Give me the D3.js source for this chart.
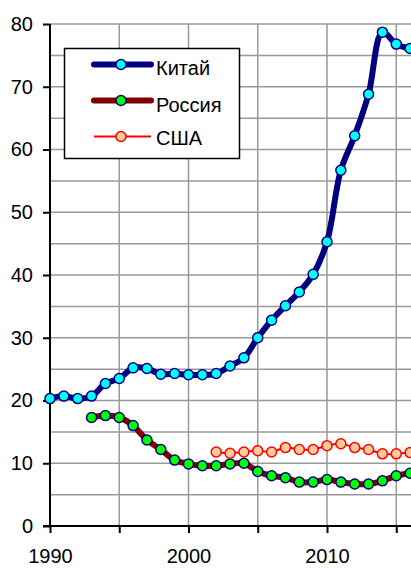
<!DOCTYPE html>
<html>
<head>
<meta charset="utf-8">
<script src="https://cdn.jsdelivr.net/npm/d3@7"></script>
<style>
  body { margin: 0; background: #fff; }
  svg { display: block; font-family: "Liberation Sans", Arial, sans-serif; }
</style>
</head>
<body>
<script>
// data
var chinaYears = [1990, 1991, 1992, 1993, 1994, 1995, 1996, 1997, 1998, 1999, 2000, 2001, 2002, 2003,
                  2004, 2005, 2006, 2007, 2008, 2009, 2010, 2011, 2012, 2013, 2014, 2015, 2016];
var chinaValues = [20.3, 20.7, 20.3, 20.7, 22.7, 23.5, 25.2, 25.1, 24.2, 24.3, 24.1, 24.1, 24.3, 25.5,
                   26.8, 30.0, 32.8, 35.1, 37.3, 40.1, 45.3, 56.7, 62.2, 68.8, 78.7, 76.8, 76.1];

var russiaYears = [1993, 1994, 1995, 1996, 1997, 1998, 1999, 2000, 2001, 2002, 2003, 2004,
                   2005, 2006, 2007, 2008, 2009, 2010, 2011, 2012, 2013, 2014, 2015, 2016];
var russiaValues = [17.3, 17.6, 17.3, 16.0, 13.7, 12.2, 10.5, 9.9, 9.6, 9.6, 9.9, 10.0,
                    8.7, 8.0, 7.7, 7.0, 7.0, 7.4, 7.0, 6.7, 6.7, 7.2, 8.0, 8.4];

var usaYears = [2002, 2003, 2004, 2005, 2006, 2007, 2008, 2009, 2010, 2011, 2012, 2013, 2014, 2015, 2016];
var usaValues = [11.8, 11.6, 11.8, 12.0, 11.8, 12.5, 12.2, 12.2, 12.8, 13.1, 12.5, 12.2, 11.5, 11.5, 11.7];

var seriesNames = ["Китай", "Россия", "США"];
var yTicks = [0, 10, 20, 30, 40, 50, 60, 70, 80];
var xTicks = [1990, 2000, 2010];

// define svg
var width = 411, height = 568;
var svg = d3.select("body")
  .append("svg")
  .attr("width", width)
  .attr("height", height);

// scales (plot runs off the right edge like the original)
var x = d3.scaleLinear().domain([1990, 2020]).range([50, 465.5]);
var y = d3.scaleLinear().domain([0, 80]).range([526, 24]);

// gridlines every 5
var grid = svg.append("g");
grid.selectAll(".hgrid")
  .data(d3.range(5, 81, 5))
  .enter().append("line")
    .attr("x1", x(1990)).attr("x2", width)
    .attr("y1", function(d) { return y(d); })
    .attr("y2", function(d) { return y(d); })
    .attr("stroke", "#999").attr("stroke-width", 1.5);
grid.selectAll(".vgrid")
  .data(d3.range(1995, 2020, 5))
  .enter().append("line")
    .attr("x1", function(d) { return x(d); })
    .attr("x2", function(d) { return x(d); })
    .attr("y1", y(80)).attr("y2", y(0))
    .attr("stroke", "#999").attr("stroke-width", 1.5);

// y axis
var yAxis = svg.append("g")
  .attr("transform", "translate(" + x(1990) + ",0)")
  .call(d3.axisLeft(y).tickValues(yTicks).tickSize(7).tickPadding(10));
yAxis.select(".domain").attr("stroke", "#000").attr("stroke-width", 2).attr("d", "M0," + y(80) + "V" + y(0));
yAxis.selectAll(".tick line").attr("stroke", "#000").attr("stroke-width", 2);
yAxis.selectAll("text").attr("font-size", 20).attr("fill", "#000").attr("font-family", "Liberation Sans, Arial, sans-serif");

// x axis: labelled every 10 years, ticks every 5
var xAxis = svg.append("g")
  .attr("transform", "translate(0," + y(0) + ")")
  .call(d3.axisBottom(x).tickValues(d3.range(1990, 2020, 5)).tickSize(7).tickPadding(16)
    .tickFormat(function(d) { return xTicks.indexOf(d) >= 0 ? d : ""; }));
xAxis.select(".domain").attr("stroke", "#000").attr("stroke-width", 2).attr("d", "M" + (x(1990) - 7) + ",0H" + width);
xAxis.selectAll(".tick line").attr("stroke", "#000").attr("stroke-width", 2);
xAxis.selectAll("text").attr("font-size", 20).attr("fill", "#000").attr("font-family", "Liberation Sans, Arial, sans-serif");

// series
var series = [
  { name: seriesNames[0], years: chinaYears, values: chinaValues, line: "#000080", lw: 6, fill: "#00ffff", stroke: "#000080" },
  { name: seriesNames[1], years: russiaYears, values: russiaValues, line: "#800000", lw: 6, fill: "#00ff00", stroke: "#000080" },
  { name: seriesNames[2], years: usaYears, values: usaValues, line: "#ff0000", lw: 2, fill: "#ffcc99", stroke: "#ff0000" }
];

var line = d3.line()
  .x(function(d) { return x(d[0]); })
  .y(function(d) { return y(d[1]); })
  .curve(d3.curveCatmullRom.alpha(0.5));

series.forEach(function(s) {
  var pts = s.years.map(function(yr, i) { return [yr, s.values[i]]; });
  svg.append("path")
    .datum(pts)
    .attr("fill", "none")
    .attr("stroke", s.line)
    .attr("stroke-width", s.lw)
    .attr("stroke-linejoin", "round")
    .attr("d", line);
  svg.append("g").selectAll("circle")
    .data(pts)
    .enter().append("circle")
      .attr("cx", function(d) { return x(d[0]); })
      .attr("cy", function(d) { return y(d[1]); })
      .attr("r", 5)
      .attr("fill", s.fill)
      .attr("stroke", s.stroke)
      .attr("stroke-width", 1.5);
});

// legend
var legend = svg.append("g");
legend.append("rect")
  .attr("x", 64.5).attr("y", 48.5)
  .attr("width", 175).attr("height", 110)
  .attr("fill", "#fff").attr("stroke", "#000").attr("stroke-width", 1.5);

var rowY = [64.5, 100.5, 136.5];
var textY = [75, 112, 145];
series.forEach(function(s, i) {
  legend.append("line")
    .attr("x1", 94).attr("x2", 151)
    .attr("y1", rowY[i]).attr("y2", rowY[i])
    .attr("stroke", s.line).attr("stroke-width", s.lw)
    .attr("stroke-linecap", s.lw > 3 ? "round" : "butt");
  legend.append("circle")
    .attr("cx", 121).attr("cy", rowY[i]).attr("r", 5)
    .attr("fill", s.fill).attr("stroke", s.stroke).attr("stroke-width", 1.5);
  legend.append("text")
    .attr("x", 156).attr("y", textY[i])
    .attr("font-size", 20)
    .attr("fill", "#000")
    .text(s.name);
});
</script>
</body>
</html>
